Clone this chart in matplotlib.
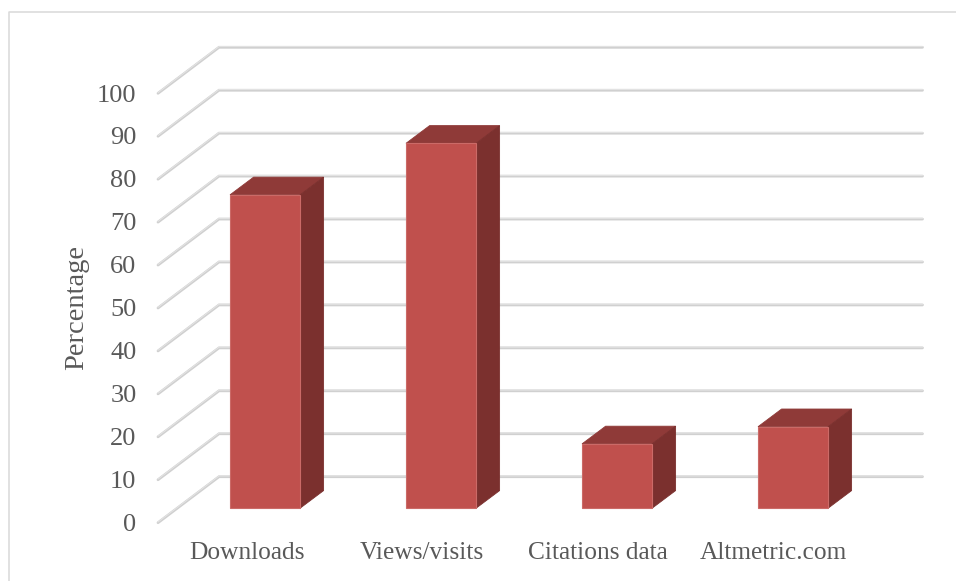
import matplotlib
matplotlib.use("Agg")
import matplotlib.pyplot as plt
from matplotlib.patches import Polygon, Rectangle

categories = ["Downloads", "Views/visits", "Citations data", "Altmetric.com"]
values = [73, 85, 15, 19]
ticks = list(range(0, 101, 10))

W, H = 956, 581
PX_PER_CAT = 176.0
PX_PER_VAL = 4.294
X0_PX = 265.0   # pixel centre of first bar
Y0_PX = 508.3   # pixel of value 0 on the bar front plane
BAR_W = 70.0 / PX_PER_CAT
DX = 23.6 / PX_PER_CAT
DY = 17.7 / PX_PER_VAL

fig = plt.figure(figsize=(W / 100, H / 100), dpi=100, facecolor="white")
ax = fig.add_axes([0, 0, 1, 1])
ax.set_xlim(-X0_PX / PX_PER_CAT, (W - X0_PX) / PX_PER_CAT)
ax.set_ylim(-(H - Y0_PX) / PX_PER_VAL, Y0_PX / PX_PER_VAL)
ax.axis("off")

font = "Liberation Serif"
txt = "#595959"

def cx(px):
    return (px - X0_PX) / PX_PER_CAT

def vy(px):
    return (Y0_PX - px) / PX_PER_VAL

# chart frame
ax.plot([cx(9), cx(9), cx(956)], [vy(581), vy(11.5), vy(11.5)], color="#d9d9d9", lw=1.1, zorder=1)

# gridlines with left wall
front_x, back_x, right_x = cx(158), cx(219), cx(922.5)
front_off, back_off = -14.4 / PX_PER_VAL, 31.6 / PX_PER_VAL
for v in ticks:
    xs = [front_x, back_x, right_x]
    ys = [v + front_off, v + back_off, v + back_off]
    ax.plot(xs, ys, color="#d0d0d0", lw=2.0, solid_capstyle="round", solid_joinstyle="miter", zorder=2)
    ax.plot(xs, [y + 0.16 for y in ys], color="#e6e6e6", lw=0.6, zorder=2.1)
    ax.text(cx(136.5), v + front_off - 2.2 / PX_PER_VAL, str(v), ha="right", va="center",
            fontsize=19, color=txt, family=font)

# bars
for i, (name, v) in enumerate(zip(categories, values)):
    l, r = i - BAR_W / 2, i + BAR_W / 2
    ax.add_patch(Polygon([(l, v), (r, v), (r + DX, v + DY), (l + DX, v + DY)],
                         facecolor="#8f3a38", edgecolor="#8f3a38", lw=0.6, zorder=3))
    ax.add_patch(Polygon([(r, 0), (r + DX, DY), (r + DX, v + DY), (r, v)],
                         facecolor="#7b302e", edgecolor="#7b302e", lw=0.6, zorder=3))
    ax.add_patch(Rectangle((l, 0), BAR_W, v, facecolor="#c0504d", edgecolor="#cb6a67", lw=0.8, zorder=4))

label_px = [247, 422, 598, 773]
for name, p in zip(categories, label_px):
    ax.text(cx(p), vy(553), name, ha="center", va="center", fontsize=18.3, color=txt, family=font)

ax.text(cx(77), vy(307), "Percentage", rotation=90, ha="center", va="center",
        fontsize=20.5, color=txt, family=font)

fig.savefig("out.png", dpi=100, facecolor="white")
